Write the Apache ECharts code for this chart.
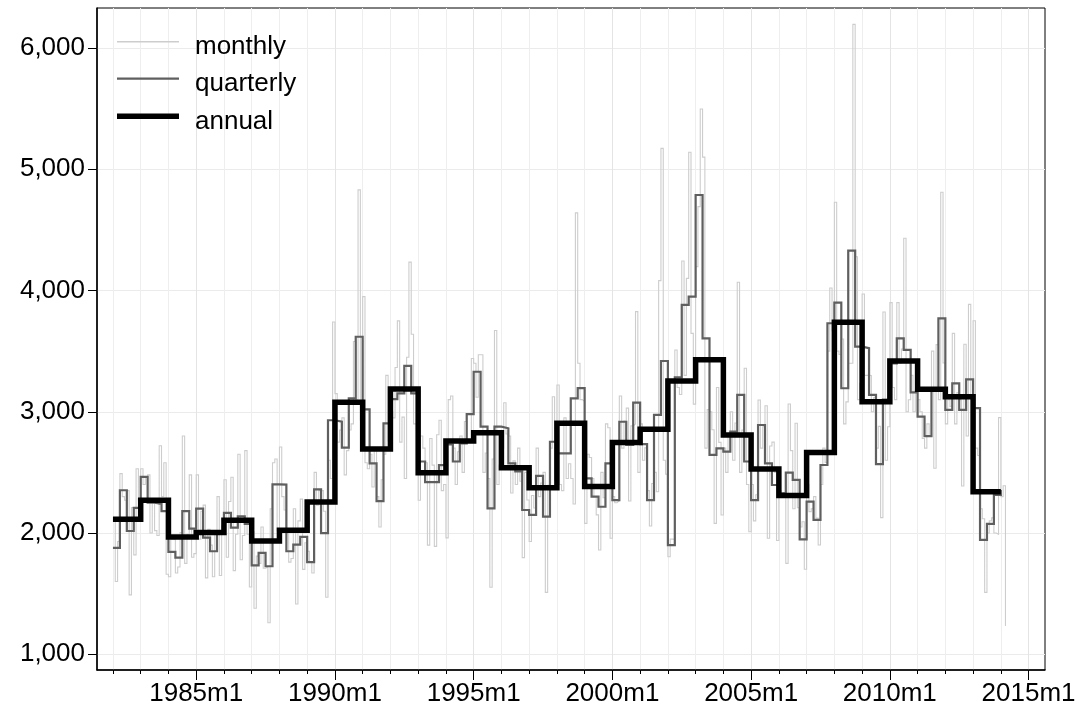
<!DOCTYPE html>
<html>
<head>
<meta charset="utf-8">
<script src="https://cdn.jsdelivr.net/npm/echarts@6/dist/echarts.min.js"></script>
<style>
  html, body { margin: 0; padding: 0; background: #ffffff; }
  #chart { width: 1084px; height: 722px; }
</style>
</head>
<body>
<div id="chart"></div>
<script>
// Time index: months since 1960m1 (Stata %tm). 1982m1 = 264.
const startMonth = 264;

// Monthly series, 1982m1 .. 2014m3
const monthly = [
  2100, 1600, 1930, 2490, 2300, 2270, 2350, 1490, 2210, 1820, 2530, 2270, // 1982
  2530, 2400, 2460, 2480, 2000, 2270, 2020, 1980, 2720, 2300, 2580, 1660, // 1983
  1640, 1950, 1945, 1670, 1720, 2005, 2800, 1750, 1990, 2480, 1800, 1830, // 1984
  2480, 1950, 2180, 2230, 1630, 2030, 1900, 1640, 2010, 2300, 1650, 2060, // 1985
  2440, 1800, 2260, 2460, 1690, 1990, 2650, 1780, 1980, 2680, 1990, 1555, // 1986
  2010, 1380, 1810, 1750, 2050, 1710, 1720, 1260, 2200, 2580, 2610, 2020, // 1987
  2710, 2300, 2190, 2000, 1760, 1790, 2200, 1415, 2100, 2280, 1700, 1920, // 1988
  1850, 1760, 1670, 2500, 2230, 2350, 2350, 2180, 1470, 2600, 2450, 3740, // 1989
  3150, 2750, 2850, 2950, 2480, 2680, 2850, 2900, 3580, 3100, 4830, 2930, // 1990
  3950, 2580, 2530, 2650, 2380, 2700, 2300, 2050, 2440, 2650, 3300, 2760, // 1991
  3000, 2950, 3365, 3750, 2750, 2956, 2450, 3450, 4234, 3640, 2900, 2916, // 1992
  2270, 2800, 2700, 2580, 1900, 2780, 2560, 1890, 2810, 2930, 2350, 2400, // 1993
  1960, 3100, 3130, 2700, 2400, 2670, 2800, 2500, 2920, 2750, 2750, 3440, // 1994
  3400, 3120, 3470, 3470, 2500, 2660, 2450, 1553, 2610, 3670, 2400, 2560, // 1995
  2700, 3075, 2817, 2800, 2330, 2595, 2400, 2700, 2427, 1797, 2500, 2273, // 1996
  1930, 2310, 2207, 2700, 2300, 2413, 2500, 1511, 2394, 2700, 3124, 2435, // 1997
  3221, 2400, 2350, 2950, 2450, 2571, 2450, 2240, 4640, 3400, 3100, 3085, // 1998
  2080, 2650, 2623, 2450, 2300, 2150, 1860, 2500, 2291, 2900, 2868, 1957, // 1999
  2300, 2250, 2266, 3130, 2700, 2924, 3030, 2264, 2884, 2900, 3826, 2500, // 2000
  2900, 2600, 2702, 2350, 2058, 2408, 2500, 2340, 4082, 5172, 2600, 2485, // 2001
  1805, 1950, 1948, 3510, 3200, 3142, 4244, 3300, 4100, 5140, 3647, 3063, // 2002
  4197, 4692, 5497, 5100, 2700, 3018, 3000, 2852, 2080, 3200, 2748, 2149, // 2003
  2700, 2500, 2813, 3000, 2600, 2908, 4068, 2500, 2849, 3359, 2400, 2011, // 2004
  2400, 2100, 2316, 3097, 2700, 2876, 3050, 1957, 2718, 2750, 2500, 1938, // 2005
  2350, 2300, 2334, 1750, 3064, 2680, 2200, 2905, 2209, 2050, 2093, 1701, // 2006
  2400, 2177, 2200, 2300, 2123, 1901, 2400, 2700, 2583, 3500, 4021, 3669, // 2007
  4728, 3500, 3472, 3600, 2900, 3082, 3400, 3400, 6195, 4279, 3100, 3232, // 2008
  3971, 3300, 3301, 3300, 3000, 3117, 2700, 2880, 2127, 3823, 2600, 2877, // 2009
  3900, 3200, 3100, 3900, 3400, 3518, 4431, 3000, 3099, 3300, 3000, 3180, // 2010
  3100, 3000, 2780, 2700, 2900, 2800, 3500, 2534, 3554, 3100, 4810, 3403, // 2011
  2900, 3100, 3045, 3647, 2900, 3158, 3100, 2388, 3557, 2800, 3886, 3118, // 2012
  3751, 2700, 2639, 2200, 2118, 1511, 2000, 2100, 2125, 2000, 1990, 2952, // 2013
  2300, 2390, 1233                                                        // 2014
];

// Quarterly series, 1982q1 .. 2014q1 (plotted at the first month of each quarter)
const quarterly = [
  1877, 2353, 2017, 2207,  // 1982
  2463, 2250, 2240, 2180,  // 1983
  1845, 1798, 2180, 2037,  // 1984
  2202, 1963, 1850, 2002,  // 1985
  2166, 2045, 2138, 2075,  // 1986
  1734, 1836, 1726, 2402,  // 1987
  2400, 1850, 1905, 1968,  // 1988
  1760, 2360, 2000, 2930,  // 1989
  2918, 2704, 3111, 3619,  // 1990
  3020, 2575, 2264, 2905,  // 1991
  3105, 3152, 3378, 3152,  // 1992
  2590, 2420, 2420, 2560,  // 1993
  2730, 2590, 2740, 2980,  // 1994
  3330, 2877, 2204, 2877,  // 1995
  2864, 2575, 2509, 2190,  // 1996
  2149, 2471, 2135, 2753,  // 1997
  2657, 2657, 3110, 3195,  // 1998
  2451, 2300, 2217, 2575,  // 1999
  2272, 2918, 2726, 3075,  // 2000
  2734, 2272, 2974, 3419,  // 2001
  1901, 3284, 3881, 3950,  // 2002
  4788, 3606, 2644, 2699,  // 2003
  2671, 2836, 3139, 2590,  // 2004
  2272, 2891, 2575, 2396,  // 2005
  2328, 2498, 2438, 1948,  // 2006
  2259, 2108, 2561, 3730,  // 2007
  3900, 3194, 4329, 3537,  // 2008
  3524, 3139, 2569, 3100,  // 2009
  3400, 3606, 3510, 3160,  // 2010
  2960, 2800, 3196, 3771,  // 2011
  3015, 3235, 3015, 3268,  // 2012
  3030, 1943, 2075, 2314,  // 2013
  2355                     // 2014
];

// Annual series, 1982 .. 2014 (plotted at January of each year)
const annual = [
  2114, 2271, 1968, 2004, 2106, 1935, 2023, 2255, 3078, 2693,  // 1982-1991
  3188, 2498, 2759, 2828, 2539, 2374, 2905, 2384, 2746, 2855,  // 1992-2001
  3254, 3430, 2809, 2528, 2310, 2665, 3738, 3083, 3419, 3185,  // 2002-2011
  3124, 2341, 2341                                             // 2012-2014
];

// Axis ticks
const yTickValues = [1000, 2000, 3000, 4000, 5000, 6000];
const xTickValues = [300, 360, 420, 480, 540, 600, 660];
const xTickLabels = ['1985m1', '1990m1', '1995m1', '2000m1', '2005m1', '2010m1', '2015m1'];
const xYearTicks = [264, 276, 288, 300, 312, 324, 336, 348, 360, 372, 384, 396, 408, 420, 432,
  444, 456, 468, 480, 492, 504, 516, 528, 540, 552, 564, 576, 588, 600, 612, 624, 636, 648, 660];

// Series names and line styles (shared by the plot and the key)
const seriesNames = ['monthly', 'quarterly', 'annual'];
const seriesColors = ['#cdcdcd', '#5f5f5f', '#000000'];
const seriesWidths = [1.1, 2.2, 5.5];

const FONT = '"Liberation Sans", Arial, Helvetica, sans-serif';
const X_MIN = 257.1, X_MAX = 667.1;
const Y_MIN = 870.5, Y_MAX = 6330;

const chart = echarts.init(document.getElementById('chart'), null, { renderer: 'canvas' });

// Key in the upper-left corner of the plot: a line sample followed by its name
const keyRows = [41.7, 78.7, 116.3];
const keyGraphics = [];
seriesNames.forEach((name, i) => {
  keyGraphics.push({
    type: 'line', silent: true, z: 10,
    shape: { x1: 117, y1: keyRows[i], x2: 179, y2: keyRows[i] },
    style: { stroke: seriesColors[i], lineWidth: Math.max(seriesWidths[i], 1.5), lineCap: 'butt' }
  });
  keyGraphics.push({
    type: 'text', silent: true, z: 10,
    x: 195, y: keyRows[i] + 5.5,
    style: { text: name, font: '26px ' + FONT, fill: '#000000', verticalAlign: 'middle', align: 'left' }
  });
});

const option = {
  animation: false,
  backgroundColor: '#ffffff',
  grid: {
    left: 97, right: 39, top: 8, bottom: 52,
    show: true, borderColor: '#000000', borderWidth: 1, backgroundColor: 'transparent'
  },
  graphic: keyGraphics,
  xAxis: [
    {
      type: 'value', min: X_MIN, max: X_MAX, position: 'bottom',
      axisLine: { show: true, onZero: false, lineStyle: { color: '#000000', width: 1.5 } },
      axisTick: { show: true, length: 4, customValues: xYearTicks, lineStyle: { color: '#000000', width: 1 } },
      axisLabel: { show: false },
      splitLine: { show: true, lineStyle: { color: '#eeeeee', width: 1 } }
    },
    {
      type: 'value', min: X_MIN, max: X_MAX, position: 'bottom',
      axisLine: { show: false, onZero: false },
      axisTick: { show: true, length: 10, customValues: xTickValues, lineStyle: { color: '#000000', width: 1 } },
      axisLabel: {
        show: true, customValues: xTickValues, margin: 11,
        fontFamily: FONT, fontSize: 26, color: '#000000',
        formatter: v => xTickLabels[xTickValues.indexOf(Math.round(v))] || ''
      },
      splitLine: { show: true, lineStyle: { color: '#e4e4e4', width: 1 } }
    }
  ],
  yAxis: {
    type: 'value', min: Y_MIN, max: Y_MAX,
    axisLine: { show: true, onZero: false, lineStyle: { color: '#000000', width: 1.5 } },
    axisTick: { show: true, length: 9, customValues: yTickValues, lineStyle: { color: '#000000', width: 1 } },
    axisLabel: {
      show: true, customValues: yTickValues, margin: 12,
      fontFamily: FONT, fontSize: 26, color: '#000000',
      formatter: v => Math.round(v).toLocaleString('en-US')
    },
    splitLine: { show: true, lineStyle: { color: '#ebebeb', width: 1 } }
  },
  series: [
    {
      name: seriesNames[0], type: 'line', step: 'end', xAxisIndex: 0,
      symbol: 'none', silent: true,
      itemStyle: { color: seriesColors[0] },
      lineStyle: { color: seriesColors[0], width: seriesWidths[0], join: 'miter' },
      data: monthly.map((v, i) => [startMonth + i, v]),
      z: 2
    },
    {
      name: seriesNames[1], type: 'line', step: 'end', xAxisIndex: 0,
      symbol: 'none', silent: true,
      itemStyle: { color: seriesColors[1] },
      lineStyle: { color: seriesColors[1], width: seriesWidths[1], join: 'miter' },
      data: quarterly.map((v, i) => [startMonth + 3 * i, v]),
      z: 3
    },
    {
      name: seriesNames[2], type: 'line', step: 'end', xAxisIndex: 0,
      symbol: 'none', silent: true,
      itemStyle: { color: seriesColors[2] },
      lineStyle: { color: seriesColors[2], width: seriesWidths[2], join: 'miter' },
      data: annual.map((v, i) => [startMonth + 12 * i, v]),
      z: 4
    }
  ]
};

chart.setOption(option);
</script>
</body>
</html>
